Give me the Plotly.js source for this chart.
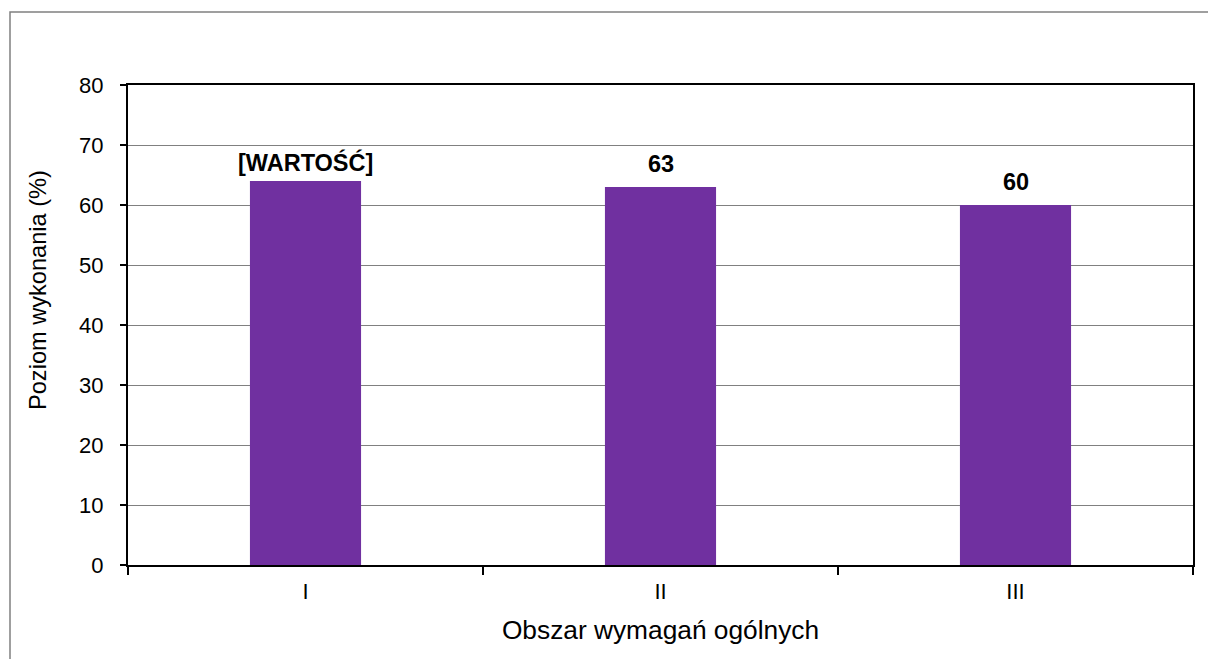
<!DOCTYPE html>
<html>
<head>
<meta charset="utf-8">
<script src="https://cdn.plot.ly/plotly-3.0.1.min.js"></script>
<style>html,body{margin:0;padding:0;background:#fff;}#chart{width:1208px;height:659px;}</style>
</head>
<body>
<div id="chart"></div>
<script>
const categories = ["I", "II", "III"];
const values = [64, 63, 60];
const barLabels = ["[WARTOŚĆ]", "63", "60"];
const yTicks = [0, 10, 20, 30, 40, 50, 60, 70, 80];
const labelShift = [3, 8, 8];

const trace = {
  type: "bar",
  x: categories,
  y: values,
  marker: {color: "#7030A0"},
  hoverinfo: "x+y"
};

const L = 128, R = 15, T = 85, B = 94, W = 1208, H = 659;
const pw = W - L - R, ph = H - T - B;

const annotations = categories.map((c, i) => ({
  x: c, y: values[i], xref: "x", yref: "y",
  text: "<b>" + barLabels[i] + "</b>",
  showarrow: false,
  yanchor: "bottom",
  xanchor: "center",
  yshift: labelShift[i],
  font: {family: "Liberation Sans, Arial, sans-serif", size: 23.5, color: "#000"}
}));

annotations.push({
  xref: "paper", yref: "paper",
  x: (38 - L) / pw, y: (H - B - 290) / ph,
  xanchor: "center", yanchor: "middle",
  textangle: -90,
  showarrow: false,
  text: "Poziom wykonania (%)",
  font: {family: "Liberation Sans, Arial, sans-serif", size: 23.6, color: "#000"}
});

const layout = {
  width: W, height: H,
  margin: {l: L, r: R, t: T, b: B},
  paper_bgcolor: "#fff",
  plot_bgcolor: "#fff",
  showlegend: false,
  bargap: 0.687,
  font: {family: "Liberation Sans, Arial, sans-serif", size: 22, color: "#000"},
  xaxis: {
    type: "category",
    tickson: "boundaries",
    ticks: "outside",
    ticklen: 8,
    tickwidth: 2,
    tickcolor: "#000",
    showline: true,
    linecolor: "#000",
    linewidth: 2,
    mirror: true,
    showgrid: false,
    tickfont: {size: 22},
    ticklabelstandoff: 6,
    title: {text: "Obszar wymagań ogólnych", font: {size: 26.3}, standoff: 17}
  },
  yaxis: {
    range: [0, 80],
    tickvals: yTicks,
    ticks: "outside",
    ticklen: 6,
    tickwidth: 1.5,
    tickcolor: "#000",
    showline: true,
    linecolor: "#000",
    linewidth: 2,
    mirror: true,
    showgrid: true,
    gridcolor: "#808080",
    gridwidth: 1,
    zeroline: false,
    tickfont: {size: 22},
    ticklabelstandoff: 12
  },
  annotations: annotations,
  shapes: [{
    type: "rect", xref: "paper", yref: "paper",
    x0: (10 - L) / pw, x1: (W + 20 - L) / pw,
    y0: (H - B - (H + 20)) / ph, y1: (H - B - 12) / ph,
    line: {color: "#808080", width: 1.5},
    fillcolor: "rgba(0,0,0,0)",
    layer: "below"
  }]
};

Plotly.newPlot("chart", [trace], layout, {displayModeBar: false, staticPlot: true});
</script>
</body>
</html>
